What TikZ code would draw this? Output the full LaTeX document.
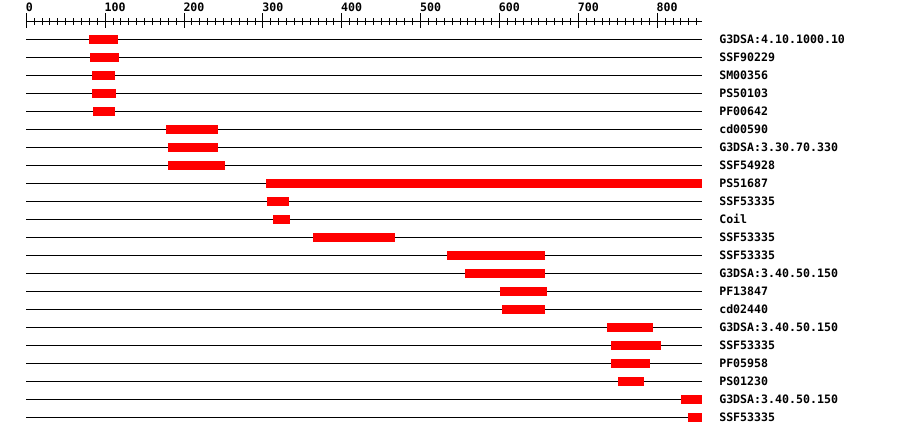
\documentclass[tikz,border=0pt]{standalone}
\usepackage{fontspec}
\setmonofont{DejaVu Sans Mono}
\begin{document}
\begin{tikzpicture}[x=0.75pt,y=-0.75pt,
  lbl/.style={font=\ttfamily\bfseries\fontsize{8.7}{10}\selectfont, anchor=base west, inner sep=0pt, text=black},
  track/.style={line width=0.75pt, draw=black},
  hit/.style={fill={rgb,255:red,255;green,0;blue,0}}]
\useasboundingbox[fill=white] (0,0) rectangle (900,436);
% axis
\coordinate (ax0) at (26.3,21.7);
\coordinate (ax1) at (702,21.7);
\draw[track] (ax0) -- (ax1);
\foreach \i in {0,...,85} {
  \pgfmathsetmacro\xx{26.3+0.7887*\i*10}
  \pgfmathtruncatemacro\r{mod(\i,10)}
  \ifnum\r=0
    \draw[track] (\xx,13.3) -- (\xx,28.3);
  \else
    \draw[track] (\xx,18.3) -- (\xx,25.1);
  \fi
}
\foreach \v in {0,1,...,8} {
  \pgfmathsetmacro\xx{26.3+0.7887*\v*100}
  \pgfmathtruncatemacro\num{\v*100}
  \node[lbl] (n\v) at (\xx-0.8,11.7) {\num};
}
% tracks
\foreach \lab/\a/\b [count=\n] in {
  G3DSA:4.10.1000.10/89/118,
  SSF90229/90/119,
  SM00356/92/115,
  PS50103/92/116,
  PF00642/93/115,
  cd00590/166/218,
  G3DSA:3.30.70.330/168/218,
  SSF54928/168/225,
  PS51687/266/702,
  SSF53335/267/289,
  Coil/273/290,
  SSF53335/313/395,
  SSF53335/447/545,
  G3DSA:3.40.50.150/465/545,
  PF13847/500/547,
  cd02440/502/545,
  G3DSA:3.40.50.150/607/653,
  SSF53335/611/661,
  PF05958/611/650,
  PS01230/618/644,
  G3DSA:3.40.50.150/681/702,
  SSF53335/688/702} {
  \pgfmathsetmacro\y{39.3+18*(\n-1)}
  \coordinate (s\n) at (26,\y);
  \coordinate (e\n) at (702,\y);
  \draw[track] (s\n) -- (e\n);
  \fill[hit] (\a,\y-4.5) rectangle (\b,\y+4.5);
  \node[lbl] (l\n) at (719,\y+4) {\lab};
}
\end{tikzpicture}
\end{document}
